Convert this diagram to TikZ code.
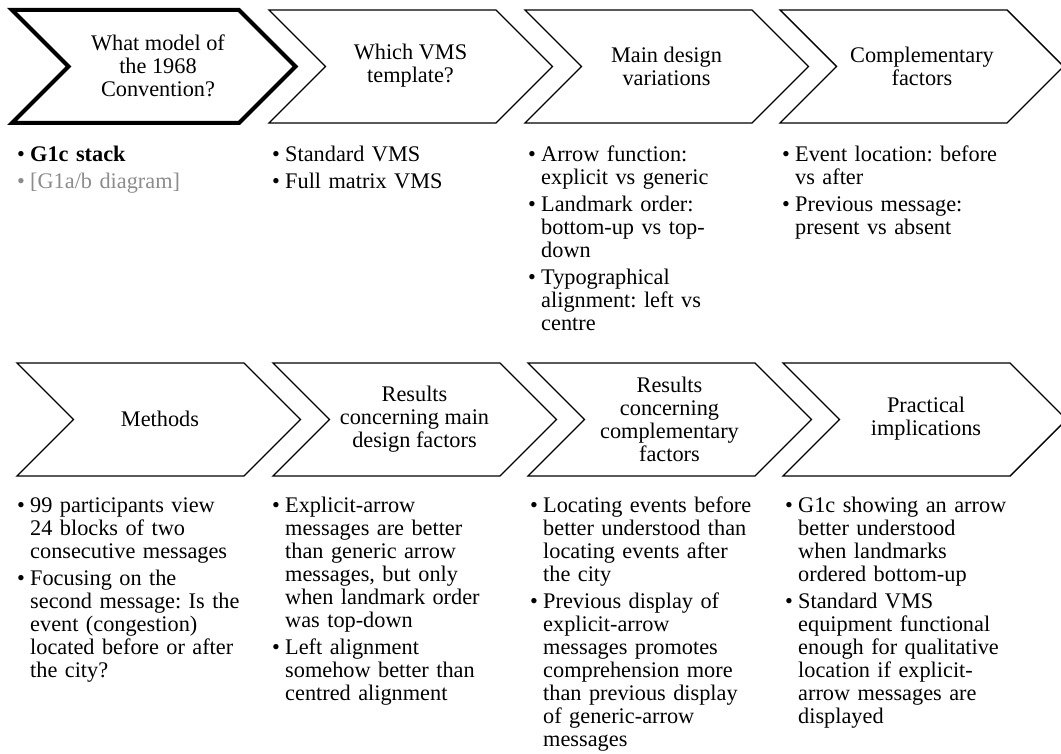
\documentclass[tikz,border=0pt]{standalone}
\usepackage{fontspec}
\setmainfont{Liberation Serif}
\definecolor{lgray}{RGB}{140,140,140}
\newcommand\bodyfont{\fontsize{22.3}{23}\selectfont\frenchspacing}
\newenvironment{blist}{\begin{list}{\strut\textbullet}{%
  \setlength\leftmargin{13pt}\setlength\labelwidth{13pt}\setlength\labelsep{0pt}%
  \setlength\itemsep{4pt}\setlength\parsep{0pt}\setlength\topsep{0pt}%
  \setlength\partopsep{0pt}\setlength\itemindent{0pt}\setlength\listparindent{0pt}%
  \renewcommand\makelabel[1]{##1\hfil}}\raggedright}{\end{list}}
\newcommand\chevshape[3]{%
  \draw[#3] (#1,#2) -- ++(227,0) -- ++(56.5,56.5) -- ++(-56.5,56.5) -- ++(-227,0) -- ++(56.5,-56.5) -- cycle;}
\tikzset{
  chev/.style={draw=black, line width=1.4pt, line join=miter},
  chevthick/.style={draw=black, line width=4pt, line join=miter},
  title/.style={align=center, font=\bodyfont, inner sep=0pt},
  body/.style={anchor=north west, text width=265pt, inner sep=0pt, font=\bodyfont}
}
\begin{document}
\begin{tikzpicture}[x=1pt, y=-1pt]
\useasboundingbox (0,0) rectangle (1061,754);
% row 1 chevrons
\chevshape{12}{10}{chevthick}
\chevshape{269}{10}{chev}
\chevshape{525}{10}{chev}
\chevshape{780}{10}{chev}
% row 2 chevrons
\chevshape{17}{363}{chev}
\chevshape{273}{363}{chev}
\chevshape{528}{363}{chev}
\chevshape{783}{363}{chev}
% titles row 1
\node[title] (t1) at (158,66) {What model of\\the 1968\\Convention?};
\node[title] (t2) at (410.5,66) {Which VMS\\template?};
\node[title] (t3) at (666.5,66) {Main design\\variations};
\node[title] (t4) at (922,66) {Complementary\\factors};
% titles row 2
\node[title] (t5) at (160,419) {Methods};
\node[title] (t6) at (414.5,419) {Results\\concerning main\\design factors};
\node[title] (t7) at (669.5,419) {Results\\concerning\\complementary\\factors};
\node[title] (t8) at (926,419) {Practical\\implications};
% bodies row 1
\node[body] (b1) at (17,138) {\begin{blist}
\item \textbf{G1c stack}
\item[\color{lgray}\strut\textbullet] \textcolor{lgray}{[G1a/b diagram]}
\end{blist}};
\node[body] (b2) at (272,138) {\begin{blist}
\item Standard VMS
\item Full matrix VMS
\end{blist}};
\node[body] (b3) at (528,138) {\begin{blist}
\item Arrow function:\\explicit vs generic
\item Landmark order:\\bottom-up vs top-\\down
\item Typographical\\alignment: left vs\\centre
\end{blist}};
\node[body] (b4) at (782,138) {\begin{blist}
\item Event location: before\\vs after
\item Previous message:\\present vs absent
\end{blist}};
% bodies row 2
\node[body] (b5) at (17,489) {\begin{blist}
\item 99 participants view\\24 blocks of two\\consecutive messages
\item Focusing on the\\second message: Is the\\event (congestion)\\located before or after\\the city?
\end{blist}};
\node[body] (b6) at (272,489) {\begin{blist}
\item Explicit-arrow\\messages are better\\than generic arrow\\messages, but only\\when landmark order\\was top-down
\item Left alignment\\somehow better than\\centred alignment
\end{blist}};
\node[body] (b7) at (530,489) {\begin{blist}
\item Locating events before\\better understood than\\locating events after\\the city
\item Previous display of\\explicit-arrow\\messages promotes\\comprehension more\\than previous display\\of generic-arrow\\messages
\end{blist}};
\node[body] (b8) at (785,489) {\begin{blist}
\item G1c showing an arrow\\better understood\\when landmarks\\ordered bottom-up
\item Standard VMS\\equipment functional\\enough for qualitative\\location if explicit-\\arrow messages are\\displayed
\end{blist}};
\end{tikzpicture}
\end{document}
